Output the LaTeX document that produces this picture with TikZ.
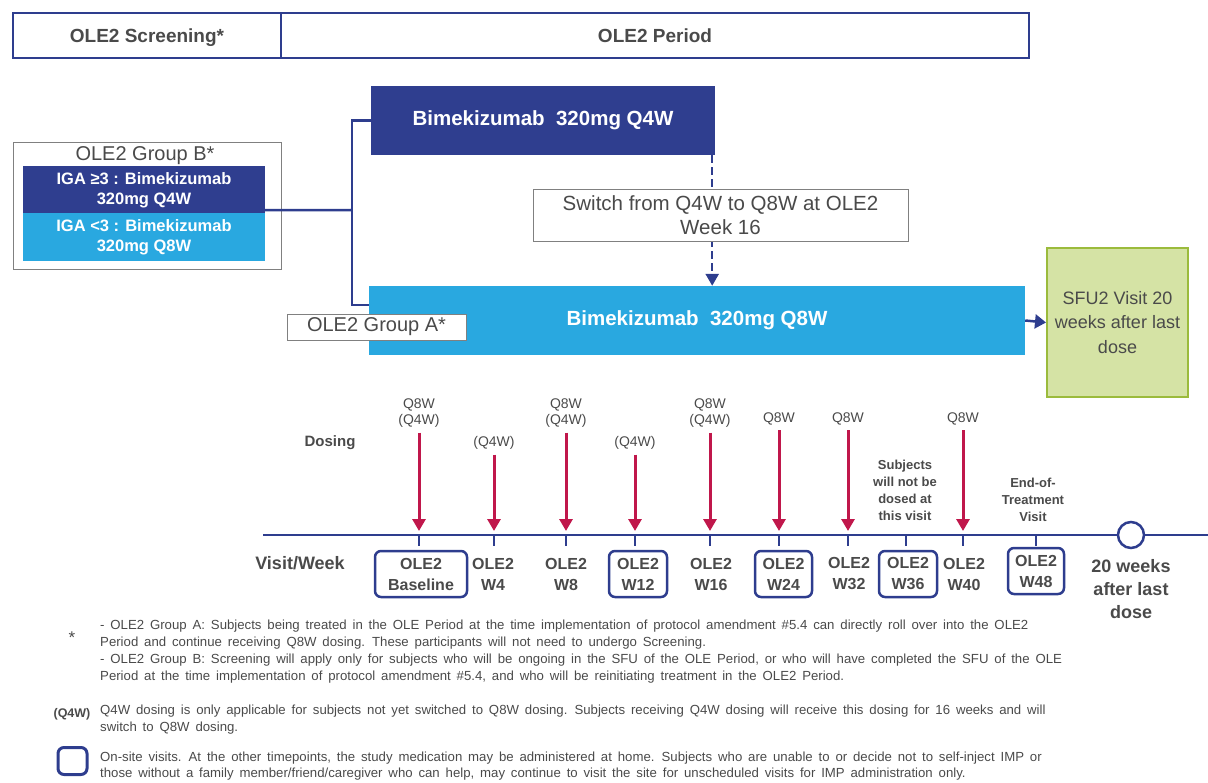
\documentclass[tikz,border=0pt]{standalone}
\usepackage{fontspec}
\setmainfont{Liberation Sans}
\newfontfamily\notefont[WordSpace=1.6]{Liberation Sans}
\usetikzlibrary{arrows.meta}
\definecolor{navy}{HTML}{2E3D8E}
\definecolor{dkbox}{HTML}{2F3E8F}
\definecolor{ltbox}{HTML}{29A8E0}
\definecolor{txt}{HTML}{4A4A4A}
\definecolor{dosec}{HTML}{C0174B}
\definecolor{grnfill}{HTML}{D5E3A5}
\definecolor{grnline}{HTML}{9BBB3C}
\definecolor{gbord}{HTML}{808080}
\newcommand{\myfs}[2]{\fontsize{#1}{#2}\selectfont}
\begin{document}
\begin{tikzpicture}[x=1pt,y=-1pt,
  hdr/.style={draw=navy, line width=2.2pt, minimum height=45pt, inner sep=0, text height=15pt, text depth=0pt, font=\bfseries\myfs{19}{22}, text=txt},
  drug/.style={inner sep=0, minimum height=69pt, text=white, font=\bfseries\myfs{20.5}{24}},
  iga/.style={inner sep=0, minimum width=242pt, minimum height=48pt, text=white, align=center, font=\bfseries\myfs{16.5}{20}},
  wbox/.style={draw=gbord, line width=0.8pt, fill=white, inner sep=0, text=txt, align=center},
  conn/.style={draw=navy, line width=2.5pt},
  dasharr/.style={draw=navy, line width=2.5pt, dash pattern=on 8pt off 4pt, -{Triangle[width=13pt,length=12pt]}},
  solarr/.style={draw=navy, line width=2.5pt, -{Triangle[width=14pt,length=11pt]}},
  tline/.style={draw=navy, line width=2.5pt},
  dosearr/.style={draw=dosec, line width=3pt, -{Triangle[width=13pt,length=12pt]}, shorten <=5pt, shorten >=4pt},
  doselab/.style={inner sep=0, align=center, text=txt, font=\myfs{14}{16}},
  vlab/.style={inner sep=0, align=center, text=txt, font=\bfseries\myfs{16}{21}},
  vbox/.style={vlab, draw=navy, line width=2.5pt, rounded corners=6pt, minimum height=46pt},
  note/.style={inner sep=0, align=left, text=txt, font=\notefont\myfs{13.2}{17}, anchor=north west},
  smallbold/.style={inner sep=0, align=center, text=txt, font=\bfseries\myfs{13}{17}}
]
\useasboundingbox (0,0) rectangle (1208,783);

% header
\node[hdr, minimum width=268pt] (scr) at (147,35.5) {OLE2 Screening*};
\node[hdr, minimum width=748pt] (per) at (655,35.5) {OLE2 Period};

% group B
\node[wbox, minimum width=268pt, minimum height=127pt] (grpB) at (147,205.5) {};
\node[inner sep=0, text=txt, font=\myfs{20}{24}] (grpBt) at (145,156) {OLE2 Group B*};
\node[iga, fill=dkbox] (igaH) at (144,190) {IGA ≥3 : Bimekizumab\\320mg Q4W};
\node[iga, fill=ltbox] (igaL) at (144,237.5) {IGA <3 : Bimekizumab\\320mg Q8W};

% drug boxes
\node[drug, fill=dkbox, minimum width=344pt] (q4) at (543,120.5) {Bimekizumab\ \ 320mg Q4W};
\node[drug, fill=ltbox, minimum width=656pt] (q8) at (697,320.5) {Bimekizumab\ \ 320mg Q8W};

% connectors
\coordinate (jn) at (352,210);
\draw[conn] ([yshift=4pt]igaH.south east) -- (jn);
\draw[conn] (q4.west) -| (jn) |- ([yshift=-19pt]q8.north west);

% dashed switch arrow
\draw[dasharr] ([xshift=-3pt]q4.south east) -- ([xshift=-3pt]q4.south east |- q8.north);
\node[wbox, minimum width=375pt, minimum height=52pt, font=\myfs{20.5}{24}] (sw) at (720.5,215) {Switch from Q4W to Q8W at OLE2\\Week 16};

% group A label
\node[wbox, minimum width=179pt, minimum height=26pt, font=\myfs{20}{24}] (grpA) at (376.5,327) {OLE2 Group A*};

% SFU2 box
\node[draw=grnline, line width=2pt, fill=grnfill, minimum width=141pt, minimum height=149pt, inner sep=0, text=txt, align=center, font=\myfs{18}{24.5}] (sfu) at (1117.5,322.5) {SFU2 Visit 20\\weeks after last\\dose};
\draw[solarr] (q8.east) -- (sfu.west);

% timeline
\coordinate (tlL) at (263,535);
\coordinate (tlR) at (1208,535);
\draw[tline] (tlL) -- (tlR);
\foreach \n/\x in {0/419,1/494,2/566,3/635,4/710,5/779,6/848,7/906,8/963,9/1036}{
  \coordinate (t\n) at (\x,535);
  \draw[tline] (t\n) -- ++(0,11);
}
\node[circle, draw=navy, line width=2.5pt, fill=white, minimum size=26pt, inner sep=0] (endc) at (1131,535) {};

% row labels
\node[inner sep=0, text=txt, font=\bfseries\myfs{15}{18}] (dosing) at (330,443) {Dosing};
\node[inner sep=0, text=txt, font=\bfseries\myfs{18}{21}] (vw) at (300,563) {Visit/Week};

% dose labels
\node[doselab] (d0) at (419,413) {Q8W\\(Q4W)};
\node[doselab] (d1) at (494,443) {(Q4W)};
\node[doselab] (d2) at (566,413) {Q8W\\(Q4W)};
\node[doselab] (d3) at (635,443) {(Q4W)};
\node[doselab] (d4) at (710,413) {Q8W\\(Q4W)};
\node[doselab] (d5) at (779,419) {Q8W};
\node[doselab] (d6) at (848,419) {Q8W};
\node[doselab] (d8) at (963,419) {Q8W};
\foreach \n in {0,1,2,3,4,5,6,8}{
  \draw[dosearr] (d\n.south) -- (t\n);
}

% visit labels
\node[vbox, minimum width=92pt] (v0) at (421,574) {OLE2\\Baseline};
\node[vlab] (v1) at (493,574) {OLE2\\W4};
\node[vlab] (v2) at (566,574) {OLE2\\W8};
\node[vbox, minimum width=58pt] (v3) at (638,574) {OLE2\\W12};
\node[vlab] (v4) at (711,574) {OLE2\\W16};
\node[vbox, minimum width=57pt] (v5) at (783.5,574) {OLE2\\W24};
\node[vlab] (v6) at (849,574) {OLE2\\W32};
\node[vbox, minimum width=58pt] (v7) at (908,574) {OLE2\\W36};
\node[vlab] (v8) at (964,574) {OLE2\\W40};
\node[vbox, minimum width=56pt] (v9) at (1036,571) {OLE2\\W48};
\node[inner sep=0, align=center, text=txt, font=\bfseries\myfs{18}{23}] (v10) at (1131,589) {20 weeks\\after last\\dose};

\node[smallbold] (nodose) at (905,490.5) {Subjects\\will not be\\dosed at\\this visit};
\node[smallbold] (eot) at (1033,499.5) {End-of-\\Treatment\\Visit};

% footnotes
\node[inner sep=0, text=txt, font=\myfs{17}{20}] (star) at (72,638) {*};
\node[note] (n1) at (100,620) {- OLE2 Group A: Subjects being treated in the OLE Period at the time implementation of protocol amendment \#5.4 can directly roll over into the OLE2\\
Period and continue receiving Q8W dosing. These participants will not need to undergo Screening.\\
- OLE2 Group B: Screening will apply only for subjects who will be ongoing in the SFU of the OLE Period, or who will have completed the SFU of the OLE\\
Period at the time implementation of protocol amendment \#5.4, and who will be reinitiating treatment in the OLE2 Period.};

\node[inner sep=0, text=txt, font=\bfseries\myfs{12.5}{15}] (q4n) at (72,714) {(Q4W)};
\node[note] (n2) at (100,705) {Q4W dosing is only applicable for subjects not yet switched to Q8W dosing. Subjects receiving Q4W dosing will receive this dosing for 16 weeks and will\\
switch to Q8W dosing.};

\node[draw=navy, line width=3pt, rounded corners=6pt, minimum width=29pt, minimum height=27pt, inner sep=0] (leg) at (72.5,761) {};
\node[note, font=\notefont\myfs{13.2}{15.5}] (n3) at (100,752) {On-site visits. At the other timepoints, the study medication may be administered at home. Subjects who are unable to or decide not to self-inject IMP or\\
those without a family member/friend/caregiver who can help, may continue to visit the site for unscheduled visits for IMP administration only.};
\end{tikzpicture}
\end{document}
